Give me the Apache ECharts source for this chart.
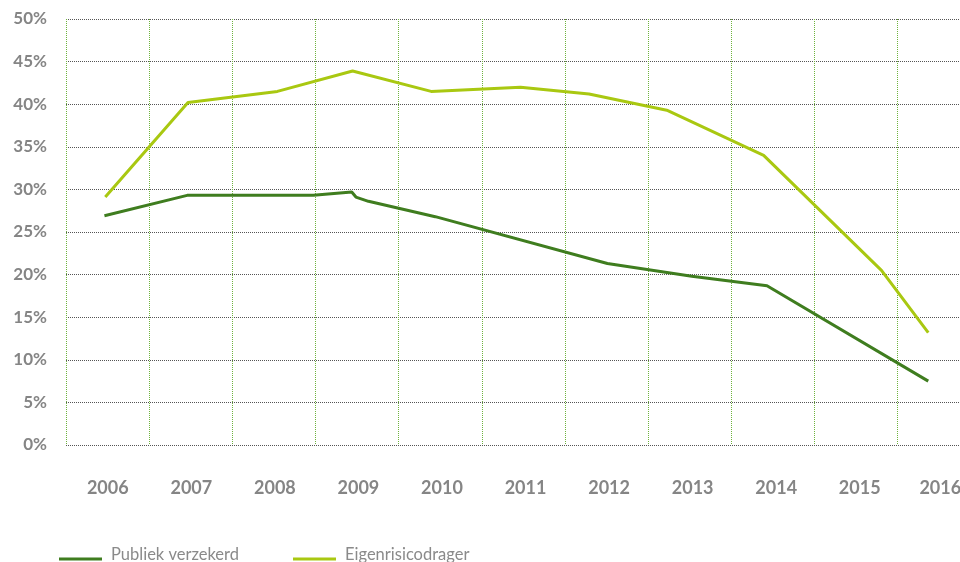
<!DOCTYPE html>
<html>
<head>
<meta charset="utf-8">
<script src="https://cdn.jsdelivr.net/npm/echarts@6/dist/echarts.min.js"></script>
<style>
  html, body { margin: 0; padding: 0; background: #fff; }
  #chart { width: 960px; height: 562px; }
</style>
</head>
<body>
<div id="chart"></div>
<script>
// jaartallen onder de as
var years = [2006, 2007, 2008, 2009, 2010, 2011, 2012, 2013, 2014, 2015, 2016];
var seriesNames = ['Publiek verzekerd', 'Eigenrisicodrager'];

// punten [jaar, percentage]
var publiek = [
  [2005.96, 26.9], [2006.95, 29.3], [2008.46, 29.3], [2008.92, 29.7],
  [2008.97, 29.1], [2009.12, 28.6], [2009.92, 26.8], [2011.98, 21.3],
  [2012.99, 19.8], [2013.89, 18.7], [2015.82, 7.5]
];
var eigen = [
  [2005.97, 29.1], [2006.96, 40.2], [2008.03, 41.5], [2008.93, 43.9],
  [2009.87, 41.5], [2010.94, 42.0], [2011.76, 41.2], [2012.69, 39.3],
  [2013.85, 34.0], [2015.26, 20.5], [2015.82, 13.2]
];

var colors = ['#3f7d1f', '#a9c811'];
var grey = '#858585';

var chart = echarts.init(document.getElementById('chart'));

chart.setOption({
  animation: false,
  color: colors,
  grid: { left: 66, right: 0, top: 19, bottom: 117, outerBoundsMode: 'none', containLabel: false },
  legend: {
    data: seriesNames,
    left: 59,
    top: 546,
    padding: 0,
    // lijntje iets onder het midden van de tekst
    icon: 'path://M0,0M0,9L43,9L43,12L0,12Z',
    itemWidth: 43,
    itemHeight: 12,
    itemGap: 54,
    textStyle: { fontFamily: 'Lato', fontSize: 16.5, color: '#8a8a8a', padding: [0, 0, 0, 4] }
  },
  xAxis: [{
    type: 'value',
    min: 2005.5,
    max: 2016.2,
    interval: 0.5,
    axisLine: { show: false },
    axisTick: { show: false },
    splitLine: { show: false },
    axisLabel: {
      margin: 34,
      fontFamily: 'Lato',
      fontSize: 18,
      fontWeight: 'bold',
      color: grey,
      formatter: function (v) {
        if (years.indexOf(v) < 0) return '';
        // laatste jaartal net binnen de rand houden
        return v === 2016 ? '{last|' + v + '}' : String(v);
      },
      rich: {
        last: { fontFamily: 'Lato', fontSize: 18, fontWeight: 'bold', color: grey, padding: [0, 6, 0, 0] }
      }
    }
  }, {
    // alleen voor de verticale stippellijnen
    type: 'value',
    min: 0,
    max: 10.75,
    interval: 1,
    axisLine: { show: false },
    axisTick: { show: false },
    axisLabel: { show: false },
    splitLine: { show: true, lineStyle: { color: '#6fb33d', type: 'dotted', width: 1 } }
  }],
  yAxis: {
    type: 'value',
    min: 0,
    max: 50,
    interval: 5,
    axisLine: { show: false },
    axisTick: { show: false },
    axisLabel: {
      margin: 19,
      fontFamily: 'Lato',
      fontSize: 17,
      fontWeight: 'bold',
      color: grey,
      formatter: '{value}%'
    },
    splitLine: { lineStyle: { color: '#555', type: 'dotted', width: 1 } }
  },
  series: [{
    name: seriesNames[0],
    type: 'line',
    xAxisIndex: 0,
    data: publiek,
    showSymbol: false,
    symbol: 'none',
    lineStyle: { width: 3 },
    z: 3
  }, {
    name: seriesNames[1],
    type: 'line',
    xAxisIndex: 0,
    data: eigen,
    showSymbol: false,
    symbol: 'none',
    lineStyle: { width: 3 },
    z: 3
  }]
});
</script>
</body>
</html>
